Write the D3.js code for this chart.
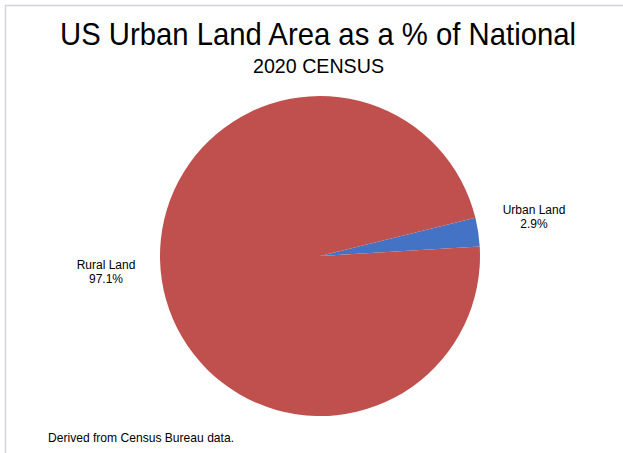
<!DOCTYPE html>
<html><head><meta charset="utf-8">
<script src="https://cdn.jsdelivr.net/npm/d3@7"></script>
<style>html,body{margin:0;padding:0;background:#fff;}svg{display:block;}</style>
</head><body>
<script>
const categories = ["Urban Land", "Rural Land"];
const values = [2.9, 97.1];
const valueLabels = ["2.9%", "97.1%"];
const colors = ["#4472C4", "#C0504D"];

const W = 623, H = 453;
const svg = d3.select("body").append("svg").attr("width", W).attr("height", H);
svg.append("rect").attr("width", W).attr("height", H).attr("fill", "#fff");
// frame
svg.append("path").attr("d", `M5.5,${H} V5.5 H${W}`).attr("fill", "none")
  .attr("stroke", "#d3d3de").attr("stroke-width", 1.5);

const font = "Liberation Sans, Arial, Helvetica, sans-serif";
svg.append("text").attr("x", 318).attr("y", 45).attr("text-anchor", "middle")
  .attr("font-family", font).attr("font-size", 32).attr("fill", "#000")
  .attr("textLength", 516).attr("lengthAdjust", "spacingAndGlyphs")
  .text("US Urban Land Area as a % of National");
svg.append("text").attr("x", 318.5).attr("y", 73).attr("text-anchor", "middle")
  .attr("font-family", font).attr("font-size", 19.5).attr("fill", "#000")
  .attr("textLength", 131).attr("lengthAdjust", "spacingAndGlyphs")
  .text("2020 CENSUS");

const cx = 320, cy = 256, r = 160;
const startDeg = 76.2;
const pie = d3.pie().sort(null).value(d => d)
  .startAngle(startDeg * Math.PI / 180)
  .endAngle((startDeg + 360) * Math.PI / 180);
const arc = d3.arc().innerRadius(0).outerRadius(r);
const arcs = pie(values);
const g = svg.append("g").attr("transform", `translate(${cx},${cy})`);
g.selectAll("path").data(arcs).enter().append("path")
  .attr("d", arc).attr("fill", (d, i) => colors[i]);

// labels
const labelPos = [[534, 214], [106, 269]];
categories.forEach((c, i) => {
  const t = svg.append("text").attr("x", labelPos[i][0]).attr("y", labelPos[i][1])
    .attr("text-anchor", "middle").attr("font-family", font).attr("font-size", 12).attr("fill", "#000");
  t.append("tspan").attr("x", labelPos[i][0]).text(c);
  t.append("tspan").attr("x", labelPos[i][0]).attr("dy", 13.5).text(valueLabels[i]);
});

svg.append("text").attr("x", 48).attr("y", 442)
  .attr("font-family", font).attr("font-size", 13.5).attr("fill", "#000")
  .attr("textLength", 186).attr("lengthAdjust", "spacingAndGlyphs")
  .text("Derived from Census Bureau data.");
</script>
</body></html>
